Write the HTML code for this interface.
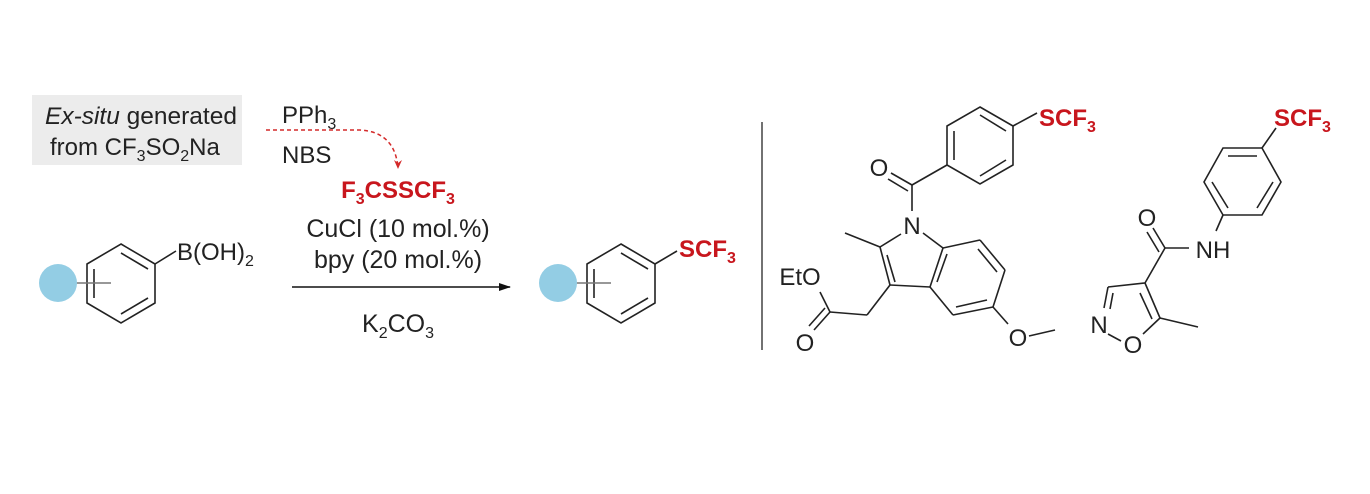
<!DOCTYPE html>
<html><head><meta charset="utf-8"><style>
html,body{margin:0;padding:0;background:#fff}
svg{display:block}
text{font-family:"Liberation Sans",Arial,sans-serif}
</style></head><body>
<svg width="1370" height="494" viewBox="0 0 1370 494" xmlns="http://www.w3.org/2000/svg">
<defs>
<marker id="ah" markerWidth="12" markerHeight="8" refX="11" refY="4" orient="auto" markerUnits="userSpaceOnUse"><path d="M0,0 L12,4 L0,8 Z" fill="#111"/></marker>
<marker id="ahr" markerWidth="8" markerHeight="9" refX="4" refY="8" orient="0" markerUnits="userSpaceOnUse"><path d="M0,0 L4,9 L8,0 L4,3 Z" fill="#d42a2a"/></marker>
</defs>
<rect x="32" y="95" width="210" height="70" fill="#ececec"/>
<text x="45" y="124" font-size="24" fill="#222" textLength="192" lengthAdjust="spacingAndGlyphs"><tspan font-style="italic">Ex-situ</tspan> generated</text>
<text x="50" y="155" font-size="24" fill="#222">from CF<tspan font-size="16" dy="6">3</tspan><tspan dy="-6">SO</tspan><tspan font-size="16" dy="6">2</tspan><tspan dy="-6">Na</tspan></text>
<text x="282" y="123" font-size="24" fill="#222">PPh<tspan font-size="16" dy="6">3</tspan></text>
<text x="282" y="163" font-size="24" fill="#222">NBS</text>
<path d="M266,130 L360,130 Q395,132 398,168" fill="none" stroke="#d42a2a" stroke-width="1.5" stroke-dasharray="4,3" marker-end="url(#ahr)"/>
<text x="398" y="198" font-size="24" font-weight="bold" fill="#c8161d" text-anchor="middle">F<tspan font-size="16" dy="6">3</tspan><tspan dy="-6">CSSCF</tspan><tspan font-size="16" dy="6">3</tspan></text>
<text x="398" y="237" font-size="25" fill="#222" text-anchor="middle">CuCl (10 mol.%)</text>
<text x="398" y="268" font-size="25" fill="#222" text-anchor="middle">bpy (20 mol.%)</text>
<line x1="292" y1="287" x2="510" y2="287" stroke="#111" stroke-width="1.6" marker-end="url(#ah)"/>
<text x="398" y="332" font-size="25" fill="#222" text-anchor="middle">K<tspan font-size="16" dy="6">2</tspan><tspan dy="-6">CO</tspan><tspan font-size="16" dy="6">3</tspan></text>

<g stroke="#222" stroke-width="1.6" fill="none">
<polygon points="121,244 155,264 155,303 121,323 87,303 87,264"/>
<line x1="121" y1="253" x2="148" y2="269"/><line x1="148" y1="298" x2="121" y2="314"/><line x1="94" y1="298" x2="94" y2="269"/>
<line x1="155" y1="264" x2="176" y2="251"/>
<line x1="75" y1="283" x2="111" y2="283" stroke="#777"/>
<polygon points="621,244 655,264 655,303 621,323 587,303 587,264"/>
<line x1="621" y1="253" x2="648" y2="269"/><line x1="648" y1="298" x2="621" y2="314"/><line x1="594" y1="298" x2="594" y2="269"/>
<line x1="655" y1="264" x2="677" y2="251"/>
<line x1="575" y1="283" x2="611" y2="283" stroke="#777"/>
</g>
<circle cx="58" cy="283" r="19" fill="#93cde4"/>
<circle cx="558" cy="283" r="19" fill="#93cde4"/>
<text x="177" y="260" font-size="24" fill="#222">B(OH)<tspan font-size="16" dy="6">2</tspan></text>
<text x="679" y="257" font-size="24" font-weight="bold" fill="#c8161d">SCF<tspan font-size="16" dy="6">3</tspan></text>

<line x1="762" y1="122" x2="762" y2="350" stroke="#444" stroke-width="1.5"/>

<g stroke="#222" stroke-width="1.6" fill="none">
<polygon points="980,107 1013,126 1013,165 980,184 947,165 947,126"/>
<line x1="980" y1="115" x2="1006" y2="131"/><line x1="1006" y1="160" x2="980" y2="176"/><line x1="954" y1="160" x2="954" y2="131"/>
<line x1="1013" y1="126" x2="1037" y2="113"/>
<line x1="947" y1="165" x2="912" y2="185"/>
<line x1="912" y1="185" x2="891" y2="173"/><line x1="908" y1="191" x2="888" y2="179"/>
<line x1="912" y1="185" x2="912" y2="211"/>
<line x1="901" y1="234" x2="880" y2="247"/>
<line x1="880" y1="247" x2="845" y2="233"/>
<line x1="880" y1="247" x2="890" y2="285"/><line x1="887" y1="255" x2="895" y2="282"/>
<line x1="890" y1="285" x2="930" y2="287"/>
<line x1="930" y1="287" x2="943" y2="248"/><line x1="937" y1="282" x2="947" y2="254"/>
<line x1="943" y1="248" x2="923" y2="233"/>
<line x1="943" y1="248" x2="980" y2="240"/>
<line x1="980" y1="240" x2="1005" y2="270"/><line x1="978" y1="249" x2="997" y2="272"/>
<line x1="1005" y1="270" x2="993" y2="307"/>
<line x1="993" y1="307" x2="953" y2="315"/><line x1="987" y1="300" x2="956" y2="307"/>
<line x1="953" y1="315" x2="930" y2="287"/>
<line x1="993" y1="307" x2="1008" y2="324"/>
<line x1="1029" y1="336" x2="1055" y2="330"/>
<line x1="890" y1="285" x2="867" y2="315"/>
<line x1="867" y1="315" x2="830" y2="312"/>
<line x1="830" y1="312" x2="820" y2="292"/>
<line x1="830" y1="312" x2="814" y2="330"/><line x1="825" y1="308" x2="809" y2="326"/>
<polygon points="1223,148 1262,148 1281,182 1262,215 1223,215 1204,182"/>
<line x1="1228" y1="156" x2="1257" y2="156"/><line x1="1273" y1="182" x2="1257" y2="208"/><line x1="1212" y1="182" x2="1228" y2="208"/>
<line x1="1262" y1="148" x2="1276" y2="128"/>
<line x1="1223" y1="215" x2="1216" y2="231"/>
<line x1="1165" y1="248" x2="1189" y2="248"/>
<line x1="1165" y1="248" x2="1153" y2="228"/><line x1="1159" y1="252" x2="1147" y2="232"/>
<line x1="1165" y1="248" x2="1145" y2="283"/>
<line x1="1145" y1="283" x2="1108" y2="287"/>
<line x1="1108" y1="287" x2="1104" y2="308"/><line x1="1113" y1="293" x2="1110" y2="309"/>
<line x1="1145" y1="283" x2="1160" y2="318"/><line x1="1140" y1="293" x2="1152" y2="319"/>
<line x1="1160" y1="318" x2="1143" y2="334"/>
<line x1="1160" y1="318" x2="1198" y2="327"/>
<line x1="1108" y1="334" x2="1121" y2="341"/>
</g>
<g font-size="24" fill="#222" text-anchor="middle">
<text x="879" y="176">O</text>
<text x="912" y="234">N</text>
<text x="1018" y="346">O</text>
<text x="800" y="285">EtO</text>
<text x="805" y="351">O</text>
<text x="1147" y="226">O</text>
<text x="1213" y="258">NH</text>
<text x="1099" y="333">N</text>
<text x="1133" y="353">O</text>
</g>
<text x="1039" y="126" font-size="24" font-weight="bold" fill="#c8161d">SCF<tspan font-size="16" dy="6">3</tspan></text>
<text x="1274" y="126" font-size="24" font-weight="bold" fill="#c8161d">SCF<tspan font-size="16" dy="6">3</tspan></text>
</svg>
</body></html>
